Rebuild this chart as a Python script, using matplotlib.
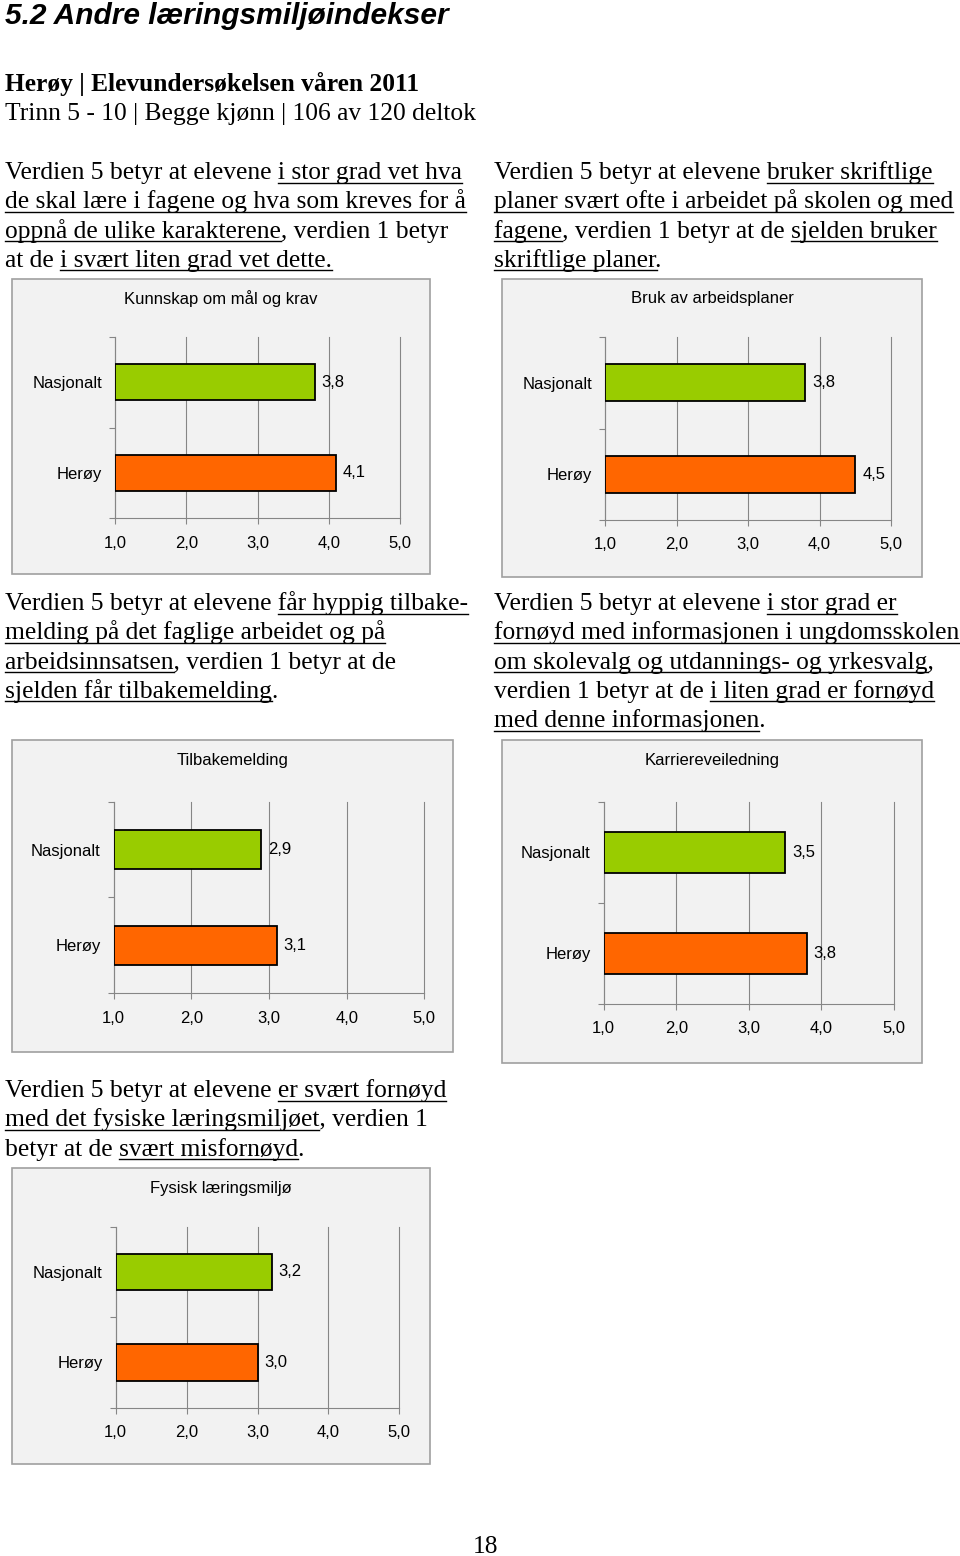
import matplotlib
matplotlib.use("Agg")
import matplotlib.pyplot as plt
from matplotlib.patches import Rectangle
from matplotlib.lines import Line2D

# ---------------- data ----------------
categories = ["Nasjonalt", "Herøy"]
chart_titles = ["Kunnskap om mål og krav", "Bruk av arbeidsplaner",
                "Tilbakemelding", "Karriereveiledning", "Fysisk læringsmiljø"]
nasjonalt = [3.8, 3.8, 2.9, 3.5, 3.2]
heroy = [4.1, 4.5, 3.1, 3.8, 3.0]
x_ticks = [1, 2, 3, 4, 5]
x_tick_labels = ["1,0", "2,0", "3,0", "4,0", "5,0"]

page_title = "5.2 Andre læringsmiljøindekser"
header_bold = "Herøy | Elevundersøkelsen våren 2011"
header_sub = "Trinn 5 - 10 | Begge kjønn | 106 av 120 deltok"
page_number = "18"

# text blocks: list of lines, each line a list of (text, underlined)
block1 = [
    [("Verdien 5 betyr at elevene ", False), ("i stor grad vet hva", True)],
    [("de skal lære i fagene og hva som kreves for å", True)],
    [("oppnå de ulike karakterene", True), (", verdien 1 betyr", False)],
    [("at de ", False), ("i svært liten grad vet dette.", True)],
]
block2 = [
    [("Verdien 5 betyr at elevene ", False), ("bruker skriftlige", True)],
    [("planer svært ofte i arbeidet på skolen og med", True)],
    [("fagene", True), (", verdien 1 betyr at de ", False), ("sjelden bruker", True)],
    [("skriftlige planer", True), (".", False)],
]
block3 = [
    [("Verdien 5 betyr at elevene ", False), ("får hyppig tilbake-", True)],
    [("melding på det faglige arbeidet og på", True)],
    [("arbeidsinnsatsen", True), (", verdien 1 betyr at de", False)],
    [("sjelden får tilbakemelding", True), (".", False)],
]
block4 = [
    [("Verdien 5 betyr at elevene ", False), ("i stor grad er", True)],
    [("fornøyd med informasjonen i ungdomsskolen", True)],
    [("om skolevalg og utdannings- og yrkesvalg", True), (",", False)],
    [("verdien 1 betyr at de ", False), ("i liten grad er fornøyd", True)],
    [("med denne informasjonen", True), (".", False)],
]
block5 = [
    [("Verdien 5 betyr at elevene ", False), ("er svært fornøyd", True)],
    [("med det fysiske læringsmiljøet", True), (", verdien 1", False)],
    [("betyr at de ", False), ("svært misfornøyd", True), (".", False)],
]

# ---------------- layout (pixels, top-left origin) ----------------
W, H = 960, 1556
GREEN = "#99CC00"
ORANGE = "#FF6600"
GRID = "#868686"
BOX_FACE = "#F2F2F2"
BOX_EDGE = "#A0A0A0"

SERIF = ["Liberation Serif", "DejaVu Serif"]
SANS = ["Liberation Sans", "DejaVu Sans"]
BODY_SIZE = 18.4
CHART_SIZE = 12.0
LINE_STEP = 29.3

boxes = [(12, 279, 430, 574), (502, 279, 922, 576.5), (12, 740, 453, 1052),
         (502, 740, 922, 1063), (12, 1168, 430, 1464)]
plot_areas = [(115.3, 336.7, 400, 518.3), (605.3, 337, 891, 520),
              (113.7, 801.7, 424.3, 993.3), (603.7, 801.7, 893.7, 1004),
              (115.7, 1226.7, 399.3, 1407.7)]
title_y = [299, 299, 761, 761, 1188]
blocks = [(block1, 5, 179), (block2, 494, 179), (block3, 5, 610),
          (block4, 494, 610), (block5, 5, 1097)]

fig = plt.figure(figsize=(W / 100, H / 100), dpi=100)
fig.patch.set_facecolor("white")
renderer = fig.canvas.get_renderer()


def fx(x):
    return x / W


def fy(y):
    return 1 - y / H


def text_width(s, **kw):
    t = fig.text(0, 0, s + "|", **kw)
    w1 = t.get_window_extent(renderer).width
    t.remove()
    t = fig.text(0, 0, "|", **kw)
    w2 = t.get_window_extent(renderer).width
    t.remove()
    return w1 - w2


# headings
fig.text(fx(5), fy(24), page_title, family=SANS, weight="bold", style="italic",
         fontsize=21.5, va="baseline", ha="left")
fig.text(fx(5), fy(91), header_bold, family=SERIF, weight="bold",
         fontsize=BODY_SIZE, va="baseline", ha="left")
fig.text(fx(5), fy(120), header_sub, family=SERIF,
         fontsize=BODY_SIZE, va="baseline", ha="left")
fig.text(fx(486), fy(1553), page_number, family=SERIF,
         fontsize=BODY_SIZE, va="baseline", ha="center")

# body text with underlines
kw = dict(family=SERIF, fontsize=BODY_SIZE)
for lines, x0, y0 in blocks:
    for i, segs in enumerate(lines):
        yb = y0 + i * LINE_STEP
        full = "".join(s for s, _ in segs)
        fig.text(fx(x0), fy(yb), full, va="baseline", ha="left", **kw)
        prefix = ""
        for s, u in segs:
            if u:
                xs = x0 + text_width(prefix, **kw) if prefix else x0
                xe = xs + text_width(s, **kw)
                fig.add_artist(Line2D([fx(xs), fx(xe)], [fy(yb + 3.5), fy(yb + 3.5)],
                                      transform=fig.transFigure, color="black", lw=1.0))
            prefix += s

# charts
for k in range(5):
    bx0, by0, bx1, by1 = boxes[k]
    fig.add_artist(Rectangle((fx(bx0), fy(by1)), (bx1 - bx0) / W, (by1 - by0) / H,
                             transform=fig.transFigure, facecolor=BOX_FACE,
                             edgecolor=BOX_EDGE, lw=1.2, zorder=-1))
    fig.text(fx((bx0 + bx1) / 2), fy(title_y[k]), chart_titles[k], family=SANS,
             fontsize=CHART_SIZE, ha="center", va="center")

    px0, py0, px1, py1 = plot_areas[k]
    ax = fig.add_axes([fx(px0), fy(py1), (px1 - px0) / W, (py1 - py0) / H])
    ax.set_facecolor("none")
    xmin = x_ticks[0]
    ax.set_xlim(x_ticks[0], x_ticks[-1])
    ax.set_ylim(-0.5, 1.5)
    values = [nasjonalt[k], heroy[k]]
    ypos = [1, 0]
    ax.barh(ypos, [v - xmin for v in values], left=xmin, height=0.4,
            color=[GREEN, ORANGE], edgecolor="black", linewidth=1.3, zorder=3)
    for v, yp in zip(values, ypos):
        ax.annotate(f"{v:.1f}".replace(".", ","), (v, yp), xytext=(5, 0),
                    textcoords="offset points", va="center", ha="left",
                    family=SANS, fontsize=CHART_SIZE)
    for sp in ["top", "right"]:
        ax.spines[sp].set_visible(False)
    for sp in ["left", "bottom"]:
        ax.spines[sp].set_color(GRID)
        ax.spines[sp].set_linewidth(0.8)
    ax.set_xticks(x_ticks)
    ax.set_xticklabels(x_tick_labels, family=SANS, fontsize=CHART_SIZE)
    ax.tick_params(axis="x", direction="out", length=4, width=0.8, color=GRID, pad=8.5)
    ax.set_yticks([-0.5, 0.5, 1.5])
    ax.set_yticklabels([])
    ax.set_yticks(ypos, minor=True)
    ax.set_yticklabels(categories, minor=True, family=SANS, fontsize=CHART_SIZE)
    ax.tick_params(axis="y", which="major", direction="out", length=4, width=0.8, color=GRID)
    ax.tick_params(axis="y", which="minor", length=0, pad=9.5)
    ax.xaxis.grid(True, color=GRID, lw=0.8)
    for gl in ax.get_xgridlines():
        gl.set_clip_on(False)
    ax.set_axisbelow(True)

fig.savefig("out.png", dpi=100, facecolor="white")
